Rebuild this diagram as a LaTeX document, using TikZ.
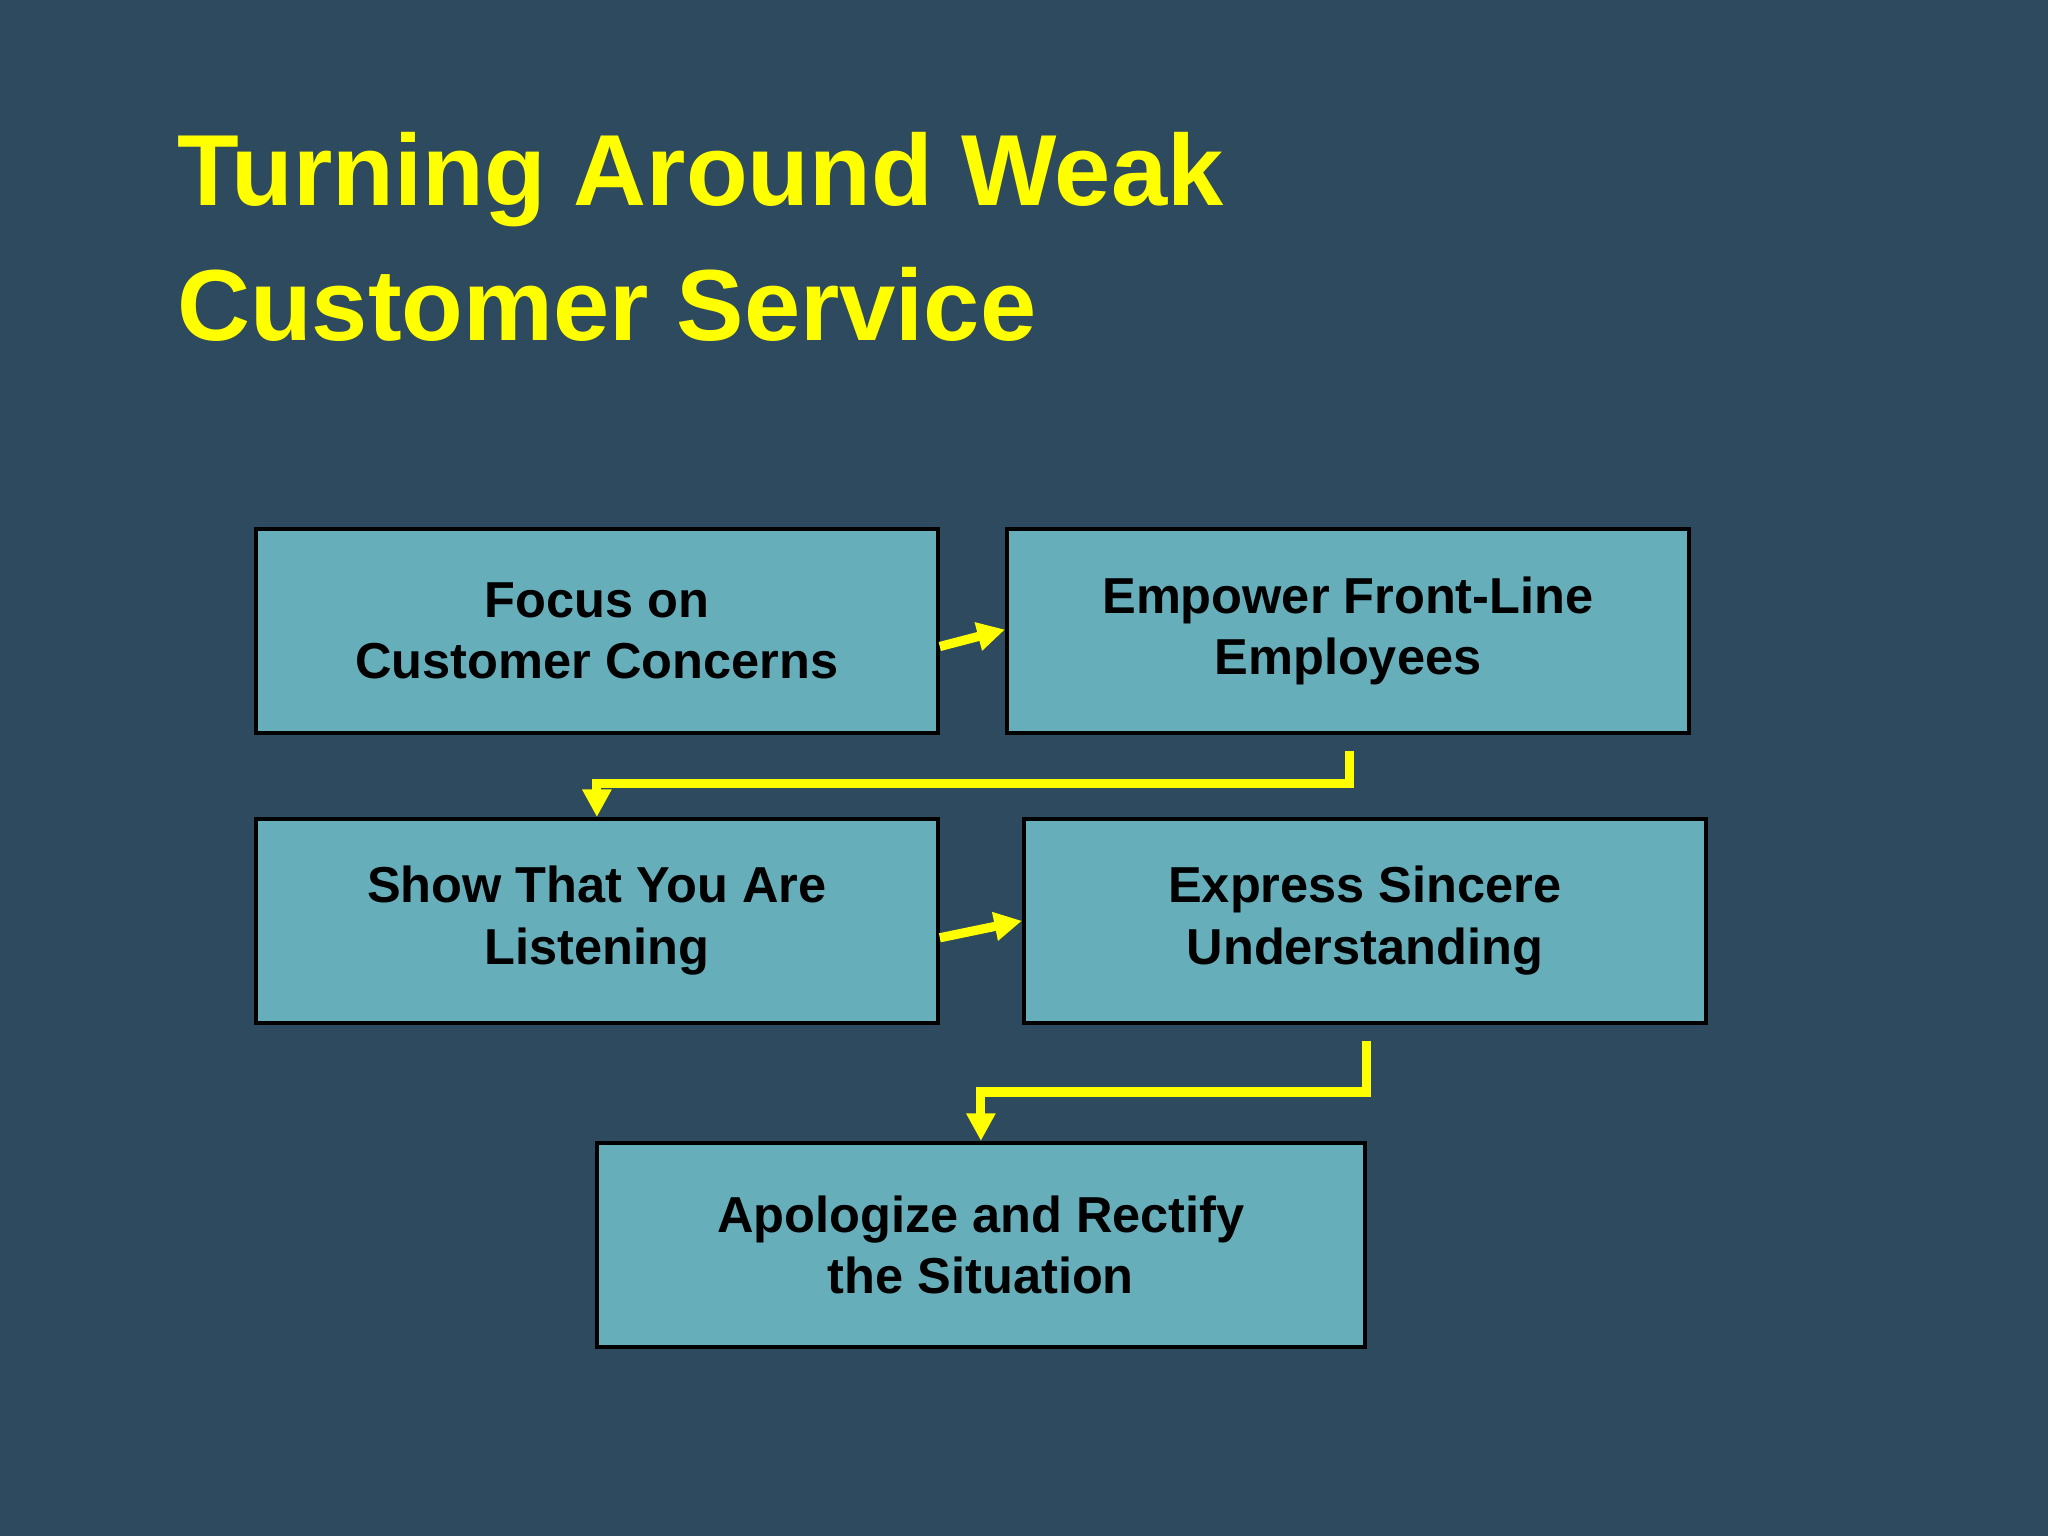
\documentclass[tikz,border=0pt]{standalone}
\usepackage{fontspec}
\setmainfont{Liberation Sans}
\usetikzlibrary{arrows.meta}
\definecolor{bg}{HTML}{2E4A5E}
\definecolor{boxc}{HTML}{67AEBB}
\definecolor{yel}{HTML}{FFFF00}
\begin{document}
\begin{tikzpicture}[x=0.01cm,y=-0.01cm,
  box/.style={draw=black,line width=0.8pt,fill=boxc,minimum width=5.22cm,minimum height=1.56cm,inner sep=0pt,align=center,font=\fontsize{11}{13.4}\selectfont\bfseries},
  conn/.style={draw=yel,line width=2pt,-{Triangle[length=6pt,width=6pt]}}]
\fill[bg] (0,0) rectangle (1568,1176);
\useasboundingbox (0,0) rectangle (1568,1176);
\node[anchor=base west,text=yel,font=\fontsize{22}{26}\selectfont\bfseries,inner sep=0pt] (t1) at (135,157) {Turning Around Weak};
\node[anchor=base west,text=yel,font=\fontsize{22}{26}\selectfont\bfseries,inner sep=0pt] (t2) at (135,261) {Customer Service};
\node[box] (b1) at (457,483) {Focus on\\Customer Concerns};
\node[box] (b2) at (1032,483) {Empower Front-Line\\Employees};
\node[box] (b3) at (457,705) {Show That You Are\\Listening};
\node[box] (b4) at (1045,705) {Express Sincere\\Understanding};
\node[box,minimum width=5.88cm] (b5) at (751,953) {Apologize and Rectify\\the Situation};
\coordinate (c1) at (1033,575);
\coordinate (c2) at (1046,797);
\draw[conn] (b1.east |- 0,495) -- (b2.west |- 0,482);
\draw[conn] (b3.east |- 0,718) -- (b4.west |- 0,705);
\draw[conn] (c1) -- (1033,600) -- (457,600) -- (b3.north);
\draw[conn] (c2) -- (1046,836) -- (751,836) -- (b5.north);
\end{tikzpicture}
\end{document}
